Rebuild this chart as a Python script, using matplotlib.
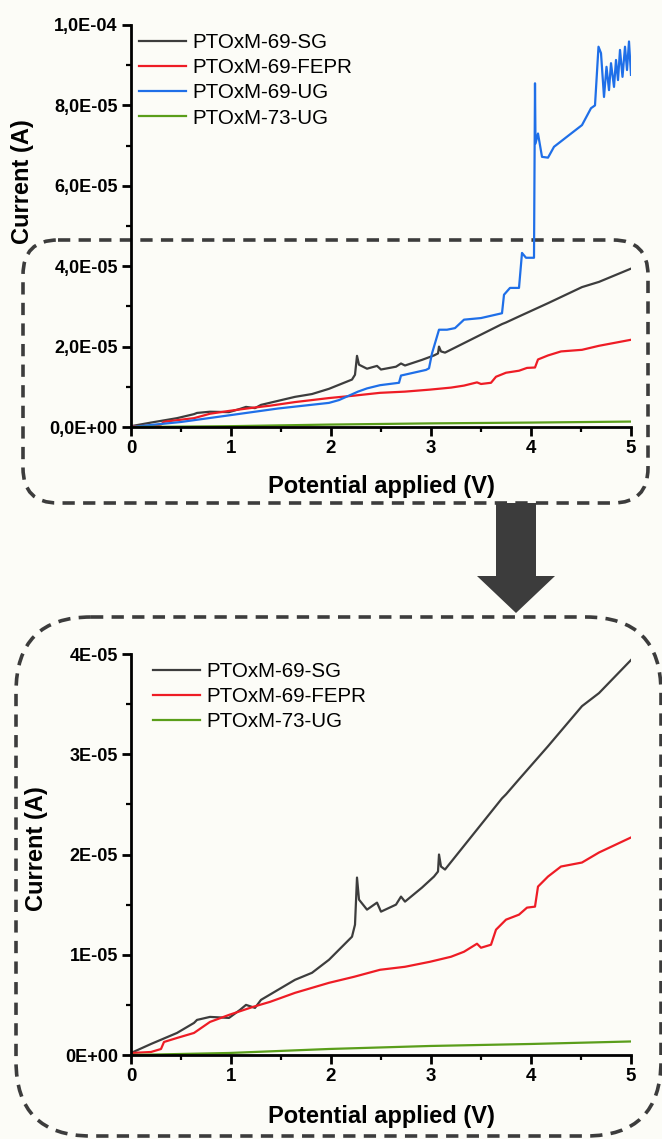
import numpy as np
import matplotlib
matplotlib.use("Agg")
import matplotlib.pyplot as plt
from matplotlib.patches import FancyBboxPatch, Polygon
from matplotlib.ticker import FixedLocator, MultipleLocator

plt.rcParams['font.family'] = ['Liberation Sans', 'DejaVu Sans']

# ---------------- data (V, µA) ----------------
sg_v = [0.00, 0.20, 0.46, 0.63, 0.66, 0.79, 0.98, 1.09, 1.15, 1.24, 1.30, 1.64, 1.81, 1.98,
        2.21, 2.24, 2.26, 2.28, 2.36, 2.46, 2.50, 2.65, 2.70, 2.74, 2.91, 3.03, 3.07, 3.08,
        3.10, 3.14, 3.71, 3.75, 3.88, 4.17, 4.51, 4.68, 5.00]
sg_i = [0.2, 1.1, 2.2, 3.2, 3.5, 3.8, 3.7, 4.5, 5.0, 4.7, 5.5, 7.5, 8.2, 9.5,
        11.8, 13.0, 17.7, 15.5, 14.5, 15.2, 14.3, 15.0, 15.8, 15.3, 16.7, 17.8, 18.3, 20.0,
        18.8, 18.5, 25.6, 26.0, 27.5, 30.8, 34.8, 36.1, 39.4]

fepr_v = [0.00, 0.20, 0.30, 0.33, 0.46, 0.63, 0.79, 0.98, 1.22, 1.39, 1.64, 1.98, 2.23, 2.49,
          2.74, 2.99, 3.20, 3.33, 3.46, 3.50, 3.60, 3.65, 3.75, 3.88, 3.96, 4.04, 4.07, 4.17,
          4.30, 4.51, 4.68, 5.00]
fepr_i = [0.2, 0.3, 0.6, 1.3, 1.7, 2.2, 3.3, 4.0, 4.8, 5.3, 6.2, 7.2, 7.8, 8.5,
          8.8, 9.3, 9.8, 10.3, 11.1, 10.7, 11.0, 12.5, 13.5, 14.0, 14.7, 14.8, 16.8, 17.8,
          18.8, 19.2, 20.2, 21.7]

ug69_v = [0.00, 0.50, 0.98, 1.47, 1.98, 2.08, 2.27, 2.36, 2.49, 2.68, 2.70, 2.95, 2.98, 3.01,
          3.08, 3.16, 3.24, 3.33, 3.50, 3.71, 3.73, 3.79, 3.88, 3.91, 3.95, 4.03, 4.04, 4.045,
          4.07, 4.11, 4.17, 4.23, 4.38, 4.51, 4.60, 4.64, 4.675, 4.70, 4.73, 4.755, 4.78, 4.80,
          4.83, 4.85, 4.87, 4.89, 4.915, 4.94, 4.96, 4.98, 5.00]
ug69_i = [0.0, 1.25, 2.9, 4.6, 6.0, 6.7, 8.8, 9.6, 10.4, 11.0, 12.8, 14.2, 14.6, 18.3,
          24.2, 24.2, 24.6, 26.7, 27.1, 28.3, 32.9, 34.6, 34.6, 43.3, 42.1, 42.1, 85.5, 70.5,
          73.0, 67.2, 67.0, 69.7, 72.6, 75.1, 79.3, 80.0, 94.6, 93.0, 82.1, 89.6, 83.8, 90.5,
          84.6, 91.3, 86.3, 93.8, 87.1, 94.6, 88.8, 95.9, 87.6]

ug73_v = [0.00, 0.98, 1.98, 2.99, 4.00, 5.00]
ug73_i = [0.0, 0.2, 0.6, 0.9, 1.1, 1.35]

labels_top = ['PTOxM-69-SG', 'PTOxM-69-FEPR', 'PTOxM-69-UG', 'PTOxM-73-UG']
labels_bot = ['PTOxM-69-SG', 'PTOxM-69-FEPR', 'PTOxM-73-UG']
top_yticks = [0, 2e-5, 4e-5, 6e-5, 8e-5, 1e-4]
top_ytick_labels = ['0,0E+00', '2,0E-05', '4,0E-05', '6,0E-05', '8,0E-05', '1,0E-04']
bot_yticks = [0, 1e-5, 2e-5, 3e-5, 4e-5]
bot_ytick_labels = ['0E+00', '1E-05', '2E-05', '3E-05', '4E-05']
xticks = [0, 1, 2, 3, 4, 5]

C_SG = '#3d3d3d'
C_FEPR = '#ee1c25'
C_UG69 = '#1f6fe8'
C_UG73 = '#5a9e1a'
BG = '#fcfcf7'
DARK = '#3c3c3c'

W, H = 662, 1139
fig = plt.figure(figsize=(W / 100, H / 100), dpi=100, facecolor=BG)

# overlay in pixel coordinates
ov = fig.add_axes([0, 0, 1, 1], zorder=0)
ov.set_xlim(0, W)
ov.set_ylim(H, 0)
ov.axis('off')
ov.patch.set_alpha(0)


def rbox(x0, y0, x1, y1, r):
    p = FancyBboxPatch((x0, y0), x1 - x0, y1 - y0,
                       boxstyle=f"round,pad=0,rounding_size={r}",
                       fill=False, edgecolor=DARK, linewidth=2.6,
                       linestyle=(0, (3.4, 2.3)))
    ov.add_patch(p)


rbox(23, 240, 648, 503, 35)
rbox(16, 617, 661, 1136, 75)
ov.add_patch(Polygon([(496, 503), (536, 503), (536, 576), (555, 576), (516, 613),
                      (477, 576), (496, 576)], closed=True, facecolor=DARK, edgecolor='none'))


def to_a(vals):
    return np.asarray(vals) * 1e-6


def style(ax):
    ax.set_facecolor('none')
    for s in ['top', 'right']:
        ax.spines[s].set_visible(False)
    for s in ['left', 'bottom']:
        ax.spines[s].set_linewidth(2.0)
    ax.tick_params(which='major', direction='out', length=6.5, width=2.0, pad=3)
    ax.tick_params(which='minor', direction='out', length=3.5, width=1.6)
    ax.set_xlim(0, 5)
    ax.xaxis.set_major_locator(FixedLocator(xticks))
    ax.xaxis.set_minor_locator(MultipleLocator(0.5))
    ax.set_xticklabels([str(t) for t in xticks], fontsize=13.5, fontweight='bold')
    ax.set_xlabel('Potential applied (V)', fontsize=17, fontweight='bold')


lw = 1.6
leg_kw = dict(frameon=False, fontsize=14.8, handlelength=2.3, handletextpad=0.3,
              labelspacing=0.3, borderpad=0, borderaxespad=0,
              bbox_transform=fig.transFigure, loc='upper left')

# ---------- top axes ----------
ax1 = fig.add_axes([131 / W, 1 - 427 / H, 500 / W, 402 / H], zorder=2)
ax1.plot(sg_v, to_a(sg_i), color=C_SG, lw=lw, label=labels_top[0])
ax1.plot(fepr_v, to_a(fepr_i), color=C_FEPR, lw=lw, label=labels_top[1])
ax1.plot(ug69_v, to_a(ug69_i), color=C_UG69, lw=lw, label=labels_top[2])
ax1.plot(ug73_v, to_a(ug73_i), color=C_UG73, lw=lw, label=labels_top[3])
style(ax1)
ax1.set_ylim(0, 1e-4)
ax1.yaxis.set_major_locator(FixedLocator(top_yticks))
ax1.yaxis.set_minor_locator(MultipleLocator(1e-5))
ax1.set_yticklabels(top_ytick_labels, fontsize=13, fontweight='bold')
ax1.set_ylabel('Current (A)', fontsize=17, fontweight='bold')
ax1.yaxis.set_label_coords(-0.195, 0.61)
ax1.xaxis.set_label_coords(0.5, -0.12)
ax1.legend(bbox_to_anchor=(139 / W, 1 - 33 / H), **leg_kw)

# ---------- bottom axes ----------
ax2 = fig.add_axes([131 / W, 1 - 1055 / H, 500 / W, 401 / H], zorder=2)
ax2.plot(sg_v, to_a(sg_i), color=C_SG, lw=lw, label=labels_bot[0])
ax2.plot(fepr_v, to_a(fepr_i), color=C_FEPR, lw=lw, label=labels_bot[1])
ax2.plot(ug73_v, to_a(ug73_i), color=C_UG73, lw=lw, label=labels_bot[2])
style(ax2)
ax2.set_ylim(0, 4e-5)
ax2.yaxis.set_major_locator(FixedLocator(bot_yticks))
ax2.yaxis.set_minor_locator(MultipleLocator(5e-6))
ax2.set_yticklabels(bot_ytick_labels, fontsize=13, fontweight='bold')
ax2.set_ylabel('Current (A)', fontsize=17, fontweight='bold')
ax2.yaxis.set_label_coords(-0.165, 0.515)
ax2.xaxis.set_label_coords(0.5, -0.125)
ax2.legend(bbox_to_anchor=(153 / W, 1 - 662 / H), **leg_kw)

fig.savefig('out.png', dpi=100, facecolor=BG)
